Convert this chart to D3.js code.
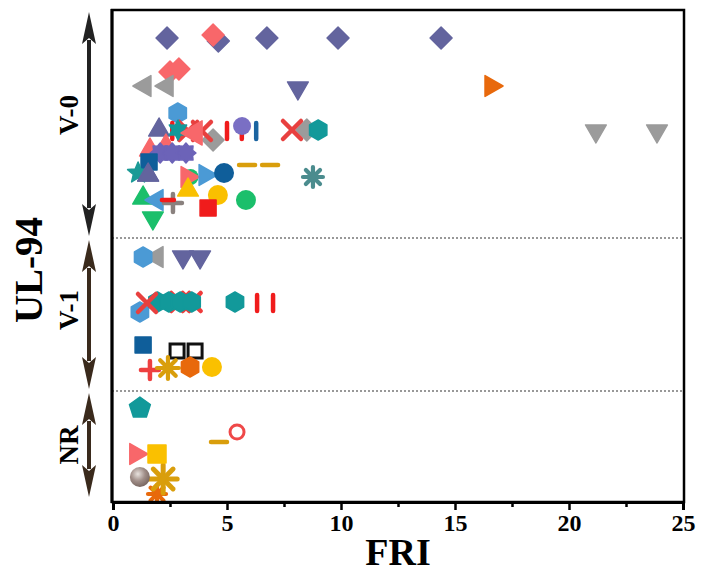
<!DOCTYPE html>
<html><head><meta charset="utf-8">
<script src="https://cdn.jsdelivr.net/npm/d3@7"></script>
<style>body{margin:0;background:#fff}svg{display:block}</style>
</head><body>
<svg id="chart" width="705" height="576"></svg>
<script>
// ---------- DATA ----------
const xTicks = [0, 5, 10, 15, 20, 25];
const xMinorTicks = [2.5, 7.5, 12.5, 17.5, 22.5];
const xTitle = "FRI";
const yTitle = "UL-94";
const levelNames = ["V-0", "V-1", "NR"];
const levelDividers = [26.4, 11.1];           // hidden level-axis values of dotted separators
const levelRanges = [[49.0, 26.6], [26.2, 11.3], [10.9, 0.5]];
const levelLabelAt = [38.7, 19.2, 5.7];

// points: [FRI, hidden level position]
const purpleDiamonds = [[2.37, 46.4], [4.62, 46.1], [6.75, 46.4], [9.87, 46.4], [14.39, 46.4]];
const salmonDiamonds = [[4.39, 46.7], [2.5, 43.0], [2.89, 43.3]];
const greyLeftTri = [[1.4, 41.6], [2.37, 41.6], [1.93, 24.5]];
const purpleDownTri = [[8.11, 41.4], [3.07, 24.5], [3.82, 24.5]];
const orangeRightTri = [[16.58, 41.6]];
const greyDownTri = [[21.18, 37.1], [23.86, 37.1]];
const greyDiamonds = [[4.39, 36.2], [8.5, 37.2]];
const redXBehind = [[2.95, 20.0], [3.45, 20.0]];
const blueHexagons = [[2.84, 38.9], [1.32, 24.5], [1.18, 19.0]];
const tealHexagons = [[9.0, 37.2], [1.95, 20.0], [2.45, 20.0], [2.95, 20.0], [3.45, 20.0], [5.35, 20.0]];
const redBars = [[2.6, 37.1], [5.0, 37.1], [5.65, 37.1], [6.32, 19.9], [7.02, 19.9]];
const blueBars = [[6.28, 37.1]];
const redX = [[3.3, 37.1], [3.9, 37.1], [7.85, 37.2], [1.49, 19.9]];
const purpleUpTri = [[2.02, 37.2], [1.54, 32.7]];
const tealStars6 = [[2.85, 37.2]];
const salmonLeftTri = [[3.6, 36.9]];
const purpleCircles = [[5.66, 37.6]];
const salmonUpTri = [[1.62, 35.2], [2.32, 35.6]];
const violetCogs = [[2.07, 34.9], [2.6, 34.9], [3.2, 34.9]];
const darkBlueSquares = [[1.58, 34.0], [1.32, 15.7]];
const tealStars5 = [[1.1, 32.9]];
const purpleUpTri2 = [[1.54, 32.7]];
const greenBack = [[3.4, 32.5]];
const salmonRightTri = [[3.25, 32.5], [1.0, 4.8]];
const blueRightTri = [[4.04, 32.7]];
const darkBlueCircles = [[4.87, 32.9]];
const goldDashes = [[5.88, 33.7], [6.89, 33.7], [4.65, 6.0]];
const tealAsterisks = [[8.77, 32.5]];
const goldUpTri = [[3.29, 31.2]];
const goldCircles = [[4.6, 30.7], [4.34, 13.5]];
const greenCircles = [[5.83, 30.2]];
const greenUpTri = [[1.32, 30.4]];
const blueLeftTri = [[1.93, 30.2]];
const taupePlus = [[2.63, 29.9]];
const redDashes = [[2.41, 30.2]];
const redSquares = [[4.17, 29.4]];
const greenDownTri = [[1.75, 28.4]];
const blackOpenSquares = [[2.81, 15.1], [3.6, 15.1]];
const redPlus = [[1.62, 13.2]];
const orangeAsterisks = [[1.93, 0.8]];
const goldAsterisks = [[2.41, 13.4]];
const goldAsterisksLarge = [[2.2, 2.3]];
const orangeHexagons = [[3.38, 13.5]];
const tealPentagons = [[1.18, 9.4]];
const redOpenCircles = [[5.44, 7.0]];
const goldSquares = [[1.93, 4.8]];
const spheres = [[1.18, 2.5]];

// series draw order: [data, shape, colour, size]
const seriesList = [
  [purpleDiamonds, "diamond", "#63649e", 11],
  [salmonDiamonds, "diamond", "#f8676a", 11],
  [greyLeftTri, "triLeft", "#9b9b9b", 12],
  [purpleDownTri, "triDown", "#63649e", 12],
  [orangeRightTri, "triRight", "#e8690c", 12],
  [greyDownTri, "triDown", "#9b9b9b", 12],
  [greyDiamonds, "diamond", "#9b9b9b", 11],
  [redXBehind, "x", "#ef3b3b", 9],
  [blueHexagons, "hexagon", "#4b9ad5", 10],
  [tealHexagons, "hexagon", "#12999a", 10],
  [redBars, "vbar", "#f01c1c", 8],
  [blueBars, "vbar", "#1b64a0", 8],
  [redX, "x", "#e8403f", 9],
  [purpleUpTri, "triUp", "#63649e", 12],
  [tealStars6, "star6", "#12999a", 10],
  [salmonLeftTri, "triLeft", "#f8676a", 14],
  [purpleCircles, "circle", "#7a6fc4", 9],
  [salmonUpTri, "triUp", "#f8676a", 12],
  [violetCogs, "cog", "#6c63b8", 10],
  [darkBlueSquares, "square", "#0f5e9a", 8],
  [tealStars5, "star5", "#1b9a96", 11],
  [purpleUpTri2, "triUp", "#63649e", 12],
  [greenBack, "circle", "#1bbf6b", 8],
  [salmonRightTri, "triRight", "#f8676a", 12],
  [blueRightTri, "triRight", "#4b9ad5", 12],
  [darkBlueCircles, "circle", "#0f5e9a", 10],
  [goldDashes, "hdash", "#d99e0c", 8],
  [tealAsterisks, "asterisk", "#4b8c8e", 10],
  [goldUpTri, "triUp", "#f9c000", 12],
  [goldCircles, "circle", "#fac000", 10],
  [greenCircles, "circle", "#1bbf6b", 10],
  [greenUpTri, "triUp", "#1bbf6b", 12],
  [blueLeftTri, "triLeft", "#4b9ad5", 12],
  [taupePlus, "plus", "#8a817e", 9],
  [redDashes, "hdash", "#f01c1c", 6],
  [redSquares, "square", "#f01c1c", 8],
  [greenDownTri, "triDown", "#1bbf6b", 12],
  [blackOpenSquares, "openSquare", "#111111", 7],
  [redPlus, "plus", "#ee4040", 9],
  [orangeAsterisks, "asterisk", "#e8690c", 9],
  [goldAsterisks, "asterisk", "#d99e0c", 11],
  [goldAsterisksLarge, "asterisk", "#d99e0c", 14],
  [orangeHexagons, "hexagon", "#e8690c", 10],
  [tealPentagons, "pentagon", "#12999a", 11],
  [redOpenCircles, "openCircle", "#ef4848", 7],
  [goldSquares, "square", "#fac000", 9],
  [spheres, "sphere", "#9b8782", 10]
];

// ---------- LAYOUT ----------
const svg = d3.select("#chart");
const L = 112, R = 684, T = 10, B = 502;
const x = d3.scaleLinear().domain([0, 25]).range([L + 1, R - 1]);
const y = d3.scaleLinear().domain([0, 49.2]).range([B, T]);
const serif = "'Liberation Serif','Times New Roman',serif";

const defs = svg.append("defs");
const grad = defs.append("radialGradient").attr("id", "sph").attr("cx", "40%").attr("cy", "35%").attr("r", "65%");
grad.append("stop").attr("offset", "0%").attr("stop-color", "#e8e2de");
grad.append("stop").attr("offset", "55%").attr("stop-color", "#a08e88");
grad.append("stop").attr("offset", "100%").attr("stop-color", "#7a6862");
defs.append("clipPath").attr("id", "plotclip").append("rect")
  .attr("x", L).attr("y", T).attr("width", R - L).attr("height", B - T);

function poly(n, r, rot) {
  const pts = [];
  for (let i = 0; i < n; i++) {
    const a = rot + i * 2 * Math.PI / n;
    pts.push([r * Math.cos(a), r * Math.sin(a)]);
  }
  return "M" + pts.map(p => p[0].toFixed(2) + "," + p[1].toFixed(2)).join("L") + "Z";
}
function star(n, ro, ri, rot) {
  const pts = [];
  for (let i = 0; i < 2 * n; i++) {
    const a = rot + i * Math.PI / n;
    const r = i % 2 ? ri : ro;
    pts.push([r * Math.cos(a), r * Math.sin(a)]);
  }
  return "M" + pts.map(p => p[0].toFixed(2) + "," + p[1].toFixed(2)).join("L") + "Z";
}
const up = -Math.PI / 2;
function drawMarker(g, shape, c, r) {
  const filled = (d) => g.append("path").attr("d", d).attr("fill", c).attr("stroke", c)
    .attr("stroke-width", 1.5).attr("stroke-linejoin", "round");
  const line = (x1, y1, x2, y2, w) => g.append("line").attr("x1", x1).attr("y1", y1).attr("x2", x2).attr("y2", y2)
    .attr("stroke", c).attr("stroke-width", w).attr("stroke-linecap", "round");
  switch (shape) {
    case "diamond": filled(poly(4, r, up)); break;
    case "triUp": filled(poly(3, r, up)); break;
    case "triDown": filled(poly(3, r, Math.PI / 2)); break;
    case "triLeft": filled(poly(3, r, Math.PI)); break;
    case "triRight": filled(poly(3, r, 0)); break;
    case "hexagon": filled(poly(6, r, up)); break;
    case "pentagon": filled(poly(5, r, up)); break;
    case "square": filled(poly(4, r * Math.SQRT2, Math.PI / 4)); break;
    case "star5": filled(star(5, r, r * 0.45, up)); break;
    case "star6": filled(star(6, r, r * 0.55, up)); break;
    case "cog": filled(star(8, r, r * 0.72, up)); break;
    case "circle": g.append("circle").attr("r", r).attr("fill", c); break;
    case "openCircle": g.append("circle").attr("r", r).attr("fill", "none").attr("stroke", c).attr("stroke-width", 3); break;
    case "openSquare": g.append("rect").attr("x", -r).attr("y", -r).attr("width", 2 * r).attr("height", 2 * r)
      .attr("fill", "none").attr("stroke", c).attr("stroke-width", 3); break;
    case "sphere": g.append("circle").attr("r", r).attr("fill", "url(#sph)"); break;
    case "vbar": line(0, -r, 0, r, 4.5); break;
    case "hdash": line(-r, 0, r, 0, 4.5); break;
    case "x": line(-r, -r, r, r, 4.5); line(-r, r, r, -r, 4.5); break;
    case "plus": line(-r, 0, r, 0, 4.5); line(0, -r, 0, r, 4.5); break;
    case "asterisk":
      for (let i = 0; i < 4; i++) {
        const a = i * Math.PI / 4;
        line(-r * Math.cos(a), -r * Math.sin(a), r * Math.cos(a), r * Math.sin(a), r > 12 ? 5 : 4.2);
      }
      break;
  }
}

// dotted separators
svg.append("g").selectAll("line").data(levelDividers).join("line")
  .attr("x1", L).attr("x2", R).attr("y1", d => y(d)).attr("y2", d => y(d))
  .attr("stroke", "#333").attr("stroke-width", 1.2).attr("stroke-dasharray", "2,2");

// markers
const plot = svg.append("g").attr("clip-path", "url(#plotclip)");
seriesList.forEach(([data, shape, color, size]) => {
  data.forEach(([fx, lv]) => {
    const g = plot.append("g").attr("transform", `translate(${x(fx)},${y(lv)})`);
    drawMarker(g, shape, color, size);
  });
});

// frame
svg.append("rect").attr("x", L).attr("y", T).attr("width", R - L).attr("height", B - T)
  .attr("fill", "none").attr("stroke", "#000").attr("stroke-width", 2.5);
svg.append("line").attr("x1", L).attr("x2", L).attr("y1", T - 1).attr("y2", B + 1)
  .attr("stroke", "#000").attr("stroke-width", 3);

// x axis
const xAxis = svg.append("g").attr("transform", `translate(0,${B})`)
  .call(d3.axisBottom(x).tickValues(xTicks).tickSize(8).tickPadding(4).tickFormat(d3.format("d")));
xAxis.select(".domain").attr("stroke-width", 3);
xAxis.selectAll(".tick line").attr("stroke-width", 2.5);
xAxis.selectAll("text").attr("font-family", serif).attr("font-weight", "bold").attr("font-size", 24).attr("fill", "#000");
const xMinor = svg.append("g").attr("transform", `translate(0,${B})`)
  .call(d3.axisBottom(x).tickValues(xMinorTicks).tickSize(5).tickFormat(""));
xMinor.select(".domain").remove();
xMinor.selectAll(".tick line").attr("stroke-width", 2.5);

svg.append("text").attr("x", (L + R) / 2).attr("y", 565).attr("text-anchor", "middle")
  .attr("font-family", serif).attr("font-weight", "bold").attr("font-size", 38).text(xTitle);

// level arrows
const ax = 89;
const arrowColors = ["#222222", "#3a2a1c", "#3a2a1c"];
levelRanges.forEach(([top, bot], i) => {
  const y1 = y(top), y2 = y(bot), c = arrowColors[i];
  const hl = 32, hw = 7;
  svg.append("line").attr("x1", ax).attr("x2", ax).attr("y1", y1 + hl - 4).attr("y2", y2 - hl + 4)
    .attr("stroke", c).attr("stroke-width", 4);
  svg.append("path").attr("fill", c)
    .attr("d", `M${ax},${y1} L${ax + hw},${y1 + hl} L${ax},${y1 + hl - 6} L${ax - hw},${y1 + hl} Z`);
  svg.append("path").attr("fill", c)
    .attr("d", `M${ax},${y2} L${ax + hw},${y2 - hl} L${ax},${y2 - hl + 6} L${ax - hw},${y2 - hl} Z`);
  svg.append("text").attr("transform", `translate(78,${y(levelLabelAt[i])}) rotate(-90)`)
    .attr("text-anchor", "middle").attr("font-family", serif).attr("font-weight", "bold")
    .attr("font-size", 27).text(levelNames[i]);
});
svg.append("text").attr("transform", `translate(42,${y(23.2)}) rotate(-90)`)
  .attr("text-anchor", "middle").attr("font-family", serif).attr("font-weight", "bold")
  .attr("font-size", 39).text(yTitle);
</script>
</body></html>
